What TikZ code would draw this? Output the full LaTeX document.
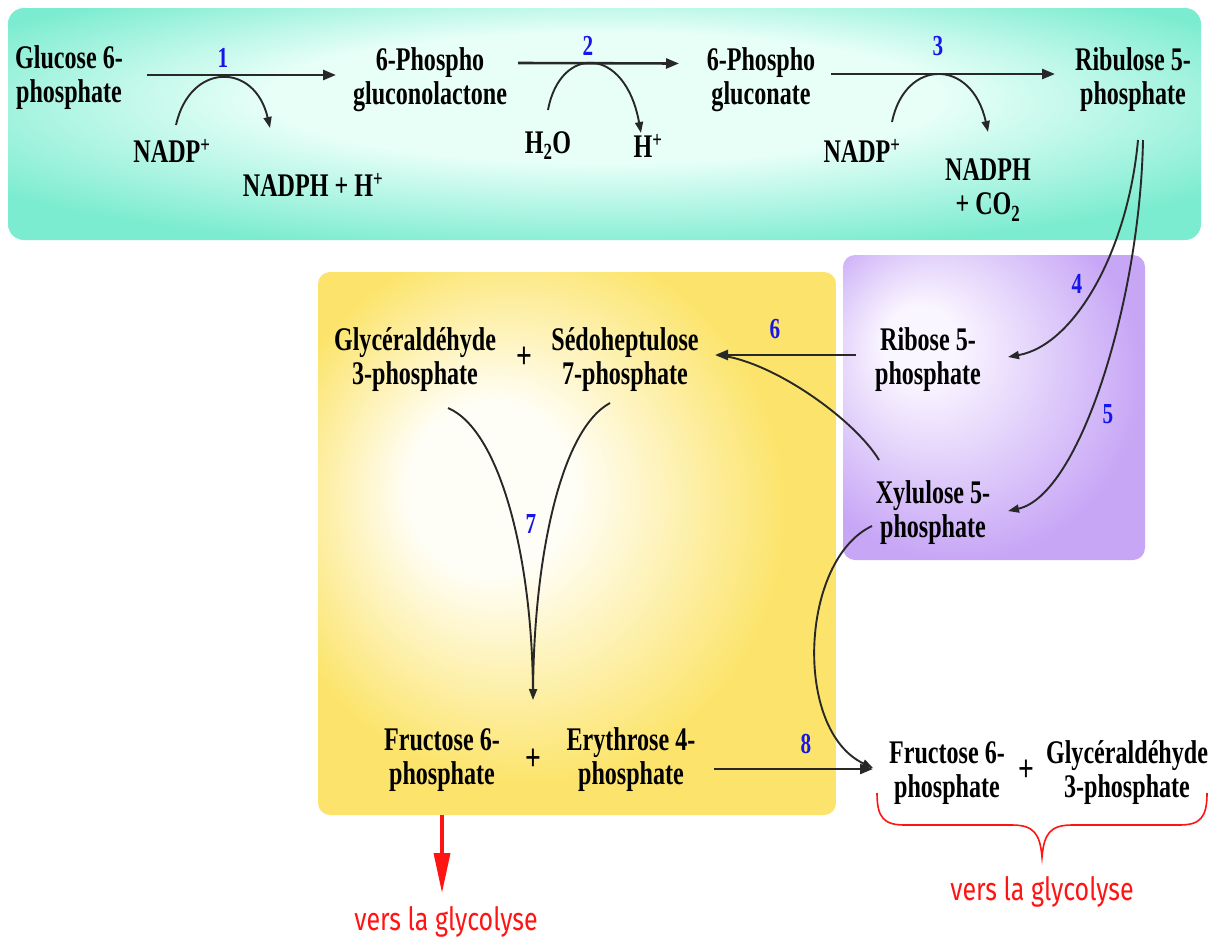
\documentclass[tikz,border=0pt]{standalone}
\usepackage{fontspec}
\setmainfont{Liberation Serif}[FakeStretch=0.73]
\newfontfamily\versfont{Fira Sans}[FakeStretch=0.78]
\usetikzlibrary{arrows.meta,calc}

\definecolor{tealout}{RGB}{124,236,208}
\definecolor{tealin}{RGB}{232,255,248}
\definecolor{yelout}{RGB}{252,228,108}
\definecolor{yelin}{RGB}{255,254,246}
\definecolor{purout}{RGB}{199,166,246}
\definecolor{purin}{RGB}{250,246,255}
\definecolor{stepblue}{RGB}{22,22,235}
\definecolor{glyred}{RGB}{255,20,20}
\definecolor{inkgray}{RGB}{40,40,40}

% soft glows for the three panels
\pgfdeclareradialshading{tealglow}{\pgfpoint{0bp}{8bp}}{color(0bp)=(tealin); color(14bp)=(tealin); color(31bp)=(tealout); color(50bp)=(tealout)}
\pgfdeclareradialshading{yelglow}{\pgfpoint{-10bp}{6bp}}{color(0bp)=(yelin); color(8bp)=(yelin); color(25bp)=(yelout); color(50bp)=(yelout)}
\pgfdeclareradialshading{purglow}{\pgfpoint{-14bp}{12bp}}{color(0bp)=(purin); color(6bp)=(purin); color(30bp)=(purout); color(50bp)=(purout)}

\begin{document}
\begin{tikzpicture}[x=1pt,y=-1pt,
  txt/.style={inner sep=0pt, font=\bfseries\fontsize{33}{34}\selectfont},
  lbl/.style={txt, align=center},
  plus/.style={inner sep=0pt, font=\bfseries\fontsize{38}{38}\selectfont},
  num/.style={inner sep=0pt, anchor=base, text=stepblue, font=\bfseries\fontsize{29}{30}\selectfont},
  vers/.style={inner sep=0pt, anchor=base, text=glyred, font=\versfont\fontsize{32}{36}\selectfont},
  mainarr/.style={draw=inkgray, line width=2.6pt, -{Triangle[length=13pt,width=10pt]}},
  sidearr/.style={draw=inkgray, line width=1.9pt, -{Triangle[length=11pt,width=8pt]}},
  sideline/.style={draw=inkgray, line width=1.9pt},
  redarr/.style={draw=glyred, line width=3.5pt, -{Triangle[length=40pt,width=16pt]}},
  bracepen/.style={draw=glyred, line width=1.6pt}]

\fill[white] (0,0) rectangle (1215,940);
\useasboundingbox (0,0) rectangle (1215,940);

% panels
\shade[shading=tealglow, rounded corners=16pt] (8,8) rectangle (1201,240);
\shade[shading=purglow, rounded corners=12pt] (843,255) rectangle (1145,560);
\shade[shading=yelglow, rounded corners=12pt] (318,272) rectangle (836,815);

% oxidative phase
\node[lbl] (g6p) at (69,77.5) {Glucose 6-\\phosphate};
\node[lbl] (pgl) at (430,79.5) {6-Phospho\\gluconolactone};
\node[lbl] (pg) at (761,80) {6-Phospho\\gluconate};
\node[lbl] (ru5p) at (1133,80) {Ribulose 5-\\phosphate};
\node[txt, anchor=base] (nadpA) at (172,162) {NADP\textsuperscript{+}};
\node[txt, anchor=base] (nadphA) at (313,196) {NADPH + H\textsuperscript{+}};
\node[txt, anchor=base] (h2o) at (548,153) {H\textsubscript{2}O};
\node[txt, anchor=base] (hplus) at (648,157) {H\textsuperscript{+}};
\node[txt, anchor=base] (nadpB) at (862,162) {NADP\textsuperscript{+}};
\node[lbl] (nadphB) at (988,190) {NADPH\\+ CO\textsubscript{2}};

% non-oxidative phase
\node[lbl] (r5p) at (928,360) {Ribose 5-\\phosphate};
\node[lbl] (x5p) at (933,513) {Xylulose 5-\\phosphate};
\node[lbl] (gapL) at (415,360) {Glycéraldéhyde\\3-phosphate};
\node[plus] (plusA) at (524,358) {+};
\node[lbl] (s7p) at (625,360) {Sédoheptulose\\7-phosphate};
\node[lbl] (f6pL) at (442,760) {Fructose 6-\\phosphate};
\node[plus] (plusB) at (533,760) {+};
\node[lbl] (e4p) at (631,760) {Erythrose 4-\\phosphate};
\node[lbl] (f6pR) at (947,773) {Fructose 6-\\phosphate};
\node[plus] (plusC) at (1026,771) {+};
\node[lbl] (gapR) at (1127,773) {Glycéraldéhyde\\3-phosphate};

\node[vers] (versL) at (446,930) {vers la glycolyse};
\node[vers] (versR) at (1042,900) {vers la glycolyse};

% step numbers
\node[num] (n1) at (223,67) {1};
\node[num] (n2) at (588,55) {2};
\node[num] (n3) at (938,55) {3};
\node[num] (n4) at (1077,293) {4};
\node[num] (n5) at (1108,423) {5};
\node[num] (n6) at (775,338) {6};
\node[num] (n7) at (531,533) {7};
\node[num] (n8) at (806,753) {8};

% main arrows of the oxidative phase
\draw[mainarr] ($(g6p.center)+(78,-2.5)$) -- ($(pgl.center)+(-94,-4.5)$);
\draw[mainarr] ($(pgl.center)+(88,-16.5)$) -- ($(pg.center)+(-82,-16.5)$);
\draw[mainarr] ($(pg.center)+(70,-6)$) -- ($(ru5p.center)+(-78,-6)$);

% cofactor arcs
\draw[sidearr] ($(nadpA.base)+(4,-37)$) .. controls +(14,-63) and +(-15,-66) .. ($(nadphA.base)+(-43,-68)$);
\draw[sidearr] ($(h2o.base)+(0,-43)$) .. controls +(12,-65) and +(-16,-88) .. ($(hplus.base)+(-7,-24)$);
\draw[sidearr] ($(nadpB.base)+(30,-40)$) .. controls +(13,-64) and +(-16,-74) .. ($(nadphB.center)+(0,-58)$);

% isomerase / epimerase
\draw[sidearr] ($(ru5p.center)+(5,60)$) .. controls +(-10,110) and +(67,-12) .. ($(r5p.center)+(80,-3)$);
\draw[sidearr] ($(ru5p.center)+(10,60)$) .. controls +(-3,160) and +(72,-16) .. ($(x5p.center)+(75,-2)$);

% transketolase 6
\draw[mainarr, line width=2.4pt] ($(r5p.center)+(-72,-5)$) -- ($(s7p.center)+(90,-5)$);
\draw[sideline] ($(x5p.center)+(-54,-53)$) .. controls +(-24,-40) and +(55,5) .. ($(s7p.center)+(92,-5)$);

% transaldolase 7
\draw[sideline] ($(gapL.center)+(33,48)$) .. controls +(52,22) and +(0,-140) .. ($(plusB.center)+(0,-62)$);
\draw[sidearr] ($(s7p.center)+(-15,43)$) .. controls +(-50,27) and +(1,-140) .. ($(plusB.center)+(0,-60)$);

% transketolase 8
\draw[mainarr, line width=2.4pt] ($(e4p.center)+(83,9)$) -- ($(f6pR.center)+(-74,-4)$);
\draw[sidearr] ($(x5p.center)+(-61,13)$) .. controls +(-72,34) and +(-80,-38) .. ($(f6pR.center)+(-74,-5)$);

% exits to glycolysis
\draw[redarr] ($(f6pL.center)+(0,55)$) -- ($(versL.base)+(-4,-37)$);
\draw[bracepen] ($(f6pR.center)+(-70,20)$)
  .. controls +(0,25) and +(-21,0) .. ++(28,32) -- ++(107,0)
  .. controls +(22,0) and +(-2,-23) .. ++(30,32)
  .. controls +(2,-23) and +(-22,0) .. ++(30,-32) -- ++(107,0)
  .. controls +(21,0) and +(0,25) .. ++(28,-32);

\end{tikzpicture}
\end{document}
